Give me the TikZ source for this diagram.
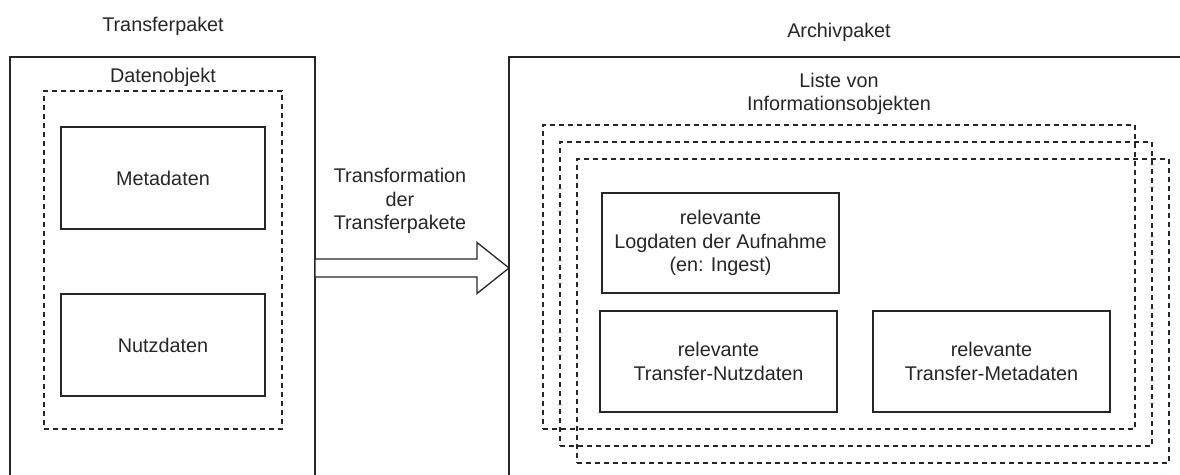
\documentclass[tikz,border=0pt]{standalone}
\usepackage{fontspec}
\setmainfont{Liberation Sans}
\usetikzlibrary{calc}
\begin{document}
\begin{tikzpicture}[x=1pt,y=-1pt,
  every node/.style={font=\fontsize{19.8}{23.3}\selectfont, text=black!85, inner sep=0pt, outer sep=0pt, align=center},
  solidbox/.style={draw=black!85, line width=1.3pt},
  dashbox/.style={draw=black!85, line width=1.3pt, dash pattern=on 5pt off 4pt},
  lbl/.style={}]
\clip (0,0) rectangle (1180,474);
% left side
\node[solidbox, minimum width=305, minimum height=463] (transfer) at (162.5,288.5) {};
\node[lbl] (transferlbl) at (163,26) {Transferpaket};
\node[lbl] (datenlbl) at (163,77) {Datenobjekt};
\node[dashbox, minimum width=238, minimum height=338] (datenobj) at (163,260) {};
\node[solidbox, minimum width=204, minimum height=102] (meta) at (163,178) {Metadaten};
\node[solidbox, minimum width=204, minimum height=102] (nutz) at (163,345) {Nutzdaten};
% right side
\node[solidbox, minimum width=691, minimum height=463] (archiv) at (854.5,288.5) {};
\node[lbl] (archivlbl) at (839,32) {Archivpaket};
\node[lbl] (listelbl) at (839,94) {Liste von\\Informationsobjekten};
\node[dashbox, minimum width=592, minimum height=304] (io1) at (839,277) {};
\node[dashbox, minimum width=592, minimum height=304] (io2) at (856,294) {};
\node[dashbox, minimum width=592, minimum height=304] (io3) at (873,311) {};
\node[solidbox, fill=white, minimum width=237, minimum height=100] (log) at (720.5,243) {relevante\\Logdaten der Aufnahme\\(en: Ingest)};
\node[solidbox, fill=white, minimum width=237, minimum height=101] (tnutz) at (718.5,361.5) {relevante\\Transfer-Nutzdaten};
\node[solidbox, fill=white, minimum width=237, minimum height=101] (tmeta) at (991.5,361.5) {relevante\\Transfer-Metadaten};
% transformation arrow
\node[lbl] (translbl) at (400,201) {Transformation\\der\\Transferpakete};
\coordinate (as) at (transfer.east |- 0,268);
\coordinate (ae) at (archiv.west |- 0,268);
\draw[solidbox, fill=white, line join=miter]
  ($(as)+(0,-9)$) -- ($(ae)+(-32,-9)$) -- ($(ae)+(-32,-25.5)$) -- (ae)
  -- ($(ae)+(-32,25.5)$) -- ($(ae)+(-32,9)$) -- ($(as)+(0,9)$) -- cycle;
\end{tikzpicture}
\end{document}
